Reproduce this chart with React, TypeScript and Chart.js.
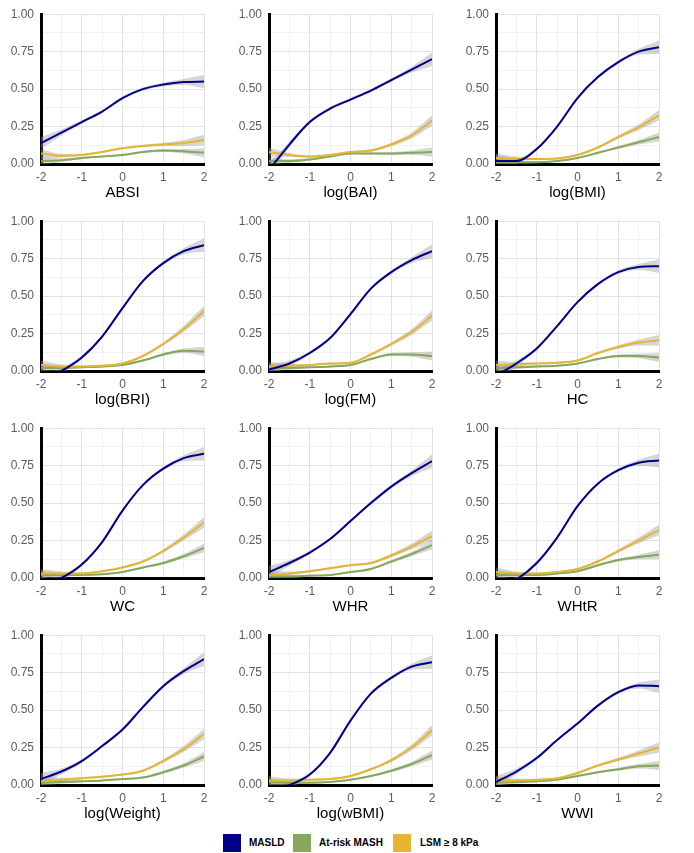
import React, { useEffect, useRef } from 'react';
import { Chart, registerables } from 'chart.js';

Chart.register(...registerables);

// ---- data ----
const xValues = [-2, -1.5, -1, -0.5, 0, 0.5, 1, 1.5, 2];
const xTickValues = [-2, -1.5, -1, -0.5, 0, 0.5, 1, 1.5, 2];
const xMajorTicks = [-2, -1, 0, 1, 2];
const yTickValues = [0, 0.125, 0.25, 0.375, 0.5, 0.625, 0.75, 0.875, 1];
const yMajorTicks = [0, 0.25, 0.5, 0.75, 1];

const panelTitles = [
  'ABSI', 'log(BAI)', 'log(BMI)',
  'log(BRI)', 'log(FM)', 'HC',
  'WC', 'WHR', 'WHtR',
  'log(Weight)', 'log(wBMI)', 'WWI',
];

const seriesNames = ['MASLD', 'At-risk MASH', 'LSM ≥ 8 kPa'];
const seriesColors = ['#00008B', '#86A85B', '#E6B630'];

// predicted probability per panel (rows follow panelTitles)
const masldValues = [
  [0.14, 0.21, 0.28, 0.35, 0.44, 0.50, 0.53, 0.547, 0.55],
  [-0.04, 0.13, 0.28, 0.37, 0.43, 0.49, 0.56, 0.63, 0.70],
  [0.02, 0.02, 0.10, 0.25, 0.44, 0.58, 0.68, 0.75, 0.78],
  [-0.06, 0.0, 0.09, 0.23, 0.42, 0.60, 0.72, 0.80, 0.84],
  [0.01, 0.05, 0.12, 0.22, 0.38, 0.55, 0.66, 0.74, 0.80],
  [-0.03, 0.05, 0.15, 0.30, 0.46, 0.58, 0.66, 0.695, 0.70],
  [-0.05, 0.0, 0.09, 0.24, 0.45, 0.62, 0.73, 0.80, 0.83],
  [0.04, 0.10, 0.17, 0.26, 0.38, 0.50, 0.61, 0.70, 0.78],
  [-0.07, -0.01, 0.10, 0.27, 0.48, 0.63, 0.72, 0.77, 0.785],
  [0.04, 0.09, 0.16, 0.26, 0.37, 0.52, 0.66, 0.76, 0.84],
  [-0.04, 0.0, 0.07, 0.215, 0.43, 0.61, 0.715, 0.79, 0.82],
  [0.02, 0.09, 0.18, 0.30, 0.41, 0.53, 0.62, 0.665, 0.66],
];

const atRiskValues = [
  [0.02, 0.025, 0.04, 0.05, 0.06, 0.08, 0.09, 0.085, 0.075],
  [0.02, 0.02, 0.03, 0.05, 0.07, 0.07, 0.07, 0.075, 0.08],
  [0.015, 0.012, 0.012, 0.02, 0.04, 0.075, 0.11, 0.145, 0.18],
  [0.02, 0.02, 0.025, 0.03, 0.04, 0.07, 0.11, 0.135, 0.13],
  [0.02, 0.02, 0.025, 0.03, 0.04, 0.08, 0.11, 0.11, 0.10],
  [0.02, 0.025, 0.03, 0.035, 0.05, 0.08, 0.10, 0.10, 0.09],
  [0.02, 0.02, 0.02, 0.025, 0.04, 0.07, 0.10, 0.145, 0.20],
  [0.01, 0.01, 0.015, 0.02, 0.04, 0.06, 0.11, 0.16, 0.22],
  [0.02, 0.02, 0.02, 0.03, 0.045, 0.085, 0.12, 0.14, 0.155],
  [0.015, 0.02, 0.025, 0.03, 0.04, 0.05, 0.085, 0.13, 0.19],
  [0.02, 0.015, 0.015, 0.02, 0.035, 0.06, 0.095, 0.14, 0.20],
  [0.02, 0.02, 0.025, 0.035, 0.06, 0.085, 0.105, 0.125, 0.13],
];

const lsmValues = [
  [0.07, 0.055, 0.06, 0.08, 0.105, 0.12, 0.13, 0.14, 0.16],
  [0.08, 0.06, 0.05, 0.06, 0.08, 0.09, 0.13, 0.19, 0.29],
  [0.04, 0.035, 0.033, 0.037, 0.06, 0.11, 0.18, 0.245, 0.325],
  [0.04, 0.03, 0.03, 0.035, 0.05, 0.10, 0.18, 0.28, 0.40],
  [0.03, 0.035, 0.04, 0.05, 0.055, 0.11, 0.18, 0.26, 0.37],
  [0.04, 0.045, 0.05, 0.055, 0.07, 0.12, 0.16, 0.19, 0.205],
  [0.03, 0.03, 0.03, 0.045, 0.07, 0.11, 0.18, 0.27, 0.37],
  [0.02, 0.03, 0.045, 0.065, 0.085, 0.10, 0.15, 0.21, 0.28],
  [0.04, 0.03, 0.03, 0.04, 0.06, 0.11, 0.18, 0.25, 0.32],
  [0.025, 0.035, 0.045, 0.055, 0.07, 0.095, 0.16, 0.24, 0.34],
  [0.03, 0.03, 0.035, 0.04, 0.06, 0.105, 0.165, 0.25, 0.365],
  [0.025, 0.03, 0.035, 0.045, 0.08, 0.13, 0.17, 0.21, 0.25],
];

// half-width of the confidence band at each x
const masldBand = [0.04, 0.02, 0.012, 0.01, 0.01, 0.01, 0.012, 0.02, 0.045];
const atRiskBand = [0.025, 0.012, 0.007, 0.005, 0.005, 0.006, 0.01, 0.015, 0.03];
const lsmBand = [0.03, 0.013, 0.007, 0.006, 0.006, 0.008, 0.012, 0.02, 0.035];

// ---- layout ----
const plotLefts = [41, 269, 496];
const plotTops = [11, 218, 425, 632];
const PLOT_W = 163;
const PLOT_H = 153;
const Y_AXIS_W = 41;
const X_AXIS_H = 40;
const PAD_TOP = 11;
const PAD_RIGHT = 12;
const CANVAS_W = Y_AXIS_W + PLOT_W + PAD_RIGHT;
const CANVAS_H = PAD_TOP + PLOT_H + X_AXIS_H;
const FONT = '"Liberation Sans", Arial, sans-serif';
const TICK_COLOR = '#5c5c5c';

function Panel({ index }: { index: number }) {
  const ref = useRef<HTMLCanvasElement | null>(null);
  useEffect(() => {
    if (!ref.current) return;
    const valueSets = [masldValues[index], atRiskValues[index], lsmValues[index]];
    const bands = [masldBand, atRiskBand, lsmBand];
    const datasets: any[] = [];
    // lines (drawn on top)
    valueSets.forEach((vals, s) => {
      datasets.push({
        label: seriesNames[s],
        data: xValues.map((x, i) => ({ x, y: vals[i] })),
        borderColor: seriesColors[s],
        borderWidth: 2,
        pointRadius: 0,
        fill: false,
        cubicInterpolationMode: 'monotone',
        order: s === 0 ? 0 : s === 2 ? 1 : 2,
      });
    });
    // confidence bands
    valueSets.forEach((vals, s) => {
      const base = datasets.length;
      datasets.push({
        label: seriesNames[s] + ' upper',
        data: xValues.map((x, i) => ({ x, y: vals[i] + bands[s][i] })),
        borderWidth: 0,
        borderColor: 'rgba(0,0,0,0)',
        backgroundColor: 'rgba(153,153,153,0.4)',
        pointRadius: 0,
        fill: base + 1,
        cubicInterpolationMode: 'monotone',
        order: 10,
      });
      datasets.push({
        label: seriesNames[s] + ' lower',
        data: xValues.map((x, i) => ({ x, y: vals[i] - bands[s][i] })),
        borderWidth: 0,
        borderColor: 'rgba(0,0,0,0)',
        pointRadius: 0,
        fill: false,
        cubicInterpolationMode: 'monotone',
        order: 10,
      });
    });

    const chart = new Chart(ref.current, {
      type: 'line',
      data: { datasets },
      options: {
        animation: false,
        responsive: false,
        events: [],
        layout: { padding: { top: PAD_TOP, right: PAD_RIGHT, left: 0, bottom: 0 } },
        plugins: { legend: { display: false }, tooltip: { enabled: false } },
        scales: {
          x: {
            type: 'linear',
            min: -2,
            max: 2,
            afterBuildTicks: (scale: any) => {
              scale.ticks = xTickValues.map((v) => ({ value: v }));
            },
            afterFit: (scale: any) => {
              scale.height = X_AXIS_H;
            },
            ticks: {
              autoSkip: false,
              maxRotation: 0,
              padding: 6,
              color: TICK_COLOR,
              font: { family: FONT, size: 12 },
              callback: (v: any) => (xMajorTicks.includes(v) ? String(v) : ''),
            },
            grid: {
              drawTicks: false,
              color: (ctx: any) => (xMajorTicks.includes(ctx.tick?.value) ? '#e2e2e2' : '#f1f1f1'),
              lineWidth: 1,
            },
            border: { display: true, color: '#000000', width: 3 },
            title: {
              display: true,
              text: panelTitles[index],
              color: '#000000',
              font: { family: FONT, size: 15 },
              padding: { top: 0, bottom: 2 },
            },
          },
          y: {
            type: 'linear',
            min: 0,
            max: 1,
            afterBuildTicks: (scale: any) => {
              scale.ticks = yTickValues.map((v) => ({ value: v }));
            },
            afterFit: (scale: any) => {
              scale.width = Y_AXIS_W;
            },
            ticks: {
              autoSkip: false,
              padding: 7,
              color: TICK_COLOR,
              font: { family: FONT, size: 12 },
              callback: (v: any) => (yMajorTicks.includes(v) ? Number(v).toFixed(2) : ''),
            },
            grid: {
              drawTicks: false,
              color: (ctx: any) => (yMajorTicks.includes(ctx.tick?.value) ? '#e2e2e2' : '#f1f1f1'),
              lineWidth: 1,
            },
            border: { display: true, color: '#000000', width: 3 },
          },
        },
      },
    } as any);
    return () => chart.destroy();
  }, [index]);

  const row = Math.floor(index / 3);
  const col = index % 3;
  return (
    <canvas
      ref={ref}
      width={CANVAS_W}
      height={CANVAS_H}
      style={{
        position: 'absolute',
        left: plotLefts[col] - Y_AXIS_W,
        top: plotTops[row] - PAD_TOP,
        width: CANVAS_W,
        height: CANVAS_H,
      }}
    />
  );
}

const legendSwatchLefts = [223, 293, 393];
const legendTextLefts = [249, 319, 420];

export default function App() {
  useEffect(() => {
    document.body.style.margin = '0';
  }, []);
  return (
    <div style={{ position: 'absolute', left: 0, top: 0, width: 694, height: 853, background: '#fff', overflow: 'hidden' }}>
      {panelTitles.map((_, i) => (
        <Panel key={i} index={i} />
      ))}
      {seriesNames.map((name, s) => (
        <React.Fragment key={name}>
          <div
            style={{
              position: 'absolute',
              left: legendSwatchLefts[s],
              top: 834,
              width: 18,
              height: 18,
              background: seriesColors[s],
            }}
          />
          <div
            style={{
              position: 'absolute',
              left: legendTextLefts[s],
              top: 836,
              fontFamily: FONT,
              fontWeight: 'bold',
              fontSize: 10,
              lineHeight: '14px',
              color: '#000',
              whiteSpace: 'nowrap',
            }}
          >
            {name}
          </div>
        </React.Fragment>
      ))}
    </div>
  );
}
